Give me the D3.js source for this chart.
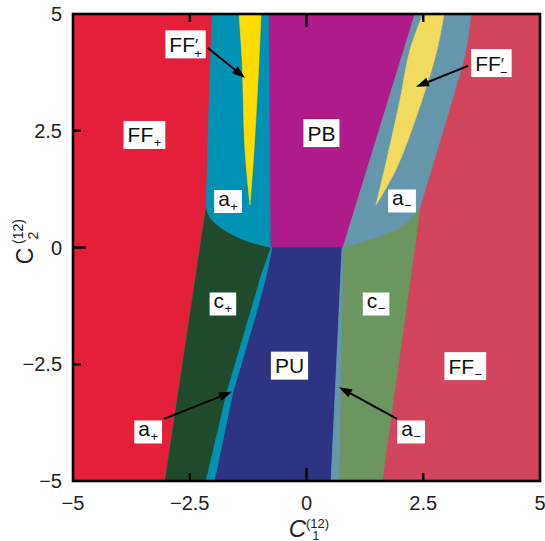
<!DOCTYPE html>
<html>
<head>
<meta charset="utf-8">
<script src="https://cdn.jsdelivr.net/npm/d3@7"></script>
<style>
  html, body { margin: 0; padding: 0; background: #fff; }
  svg { display: block; font-family: "Liberation Sans", Arial, sans-serif; }
</style>
</head>
<body>
<svg id="chart" width="545" height="541"></svg>
<script>

// tick values and labels
var xTicks = [-5, -2.5, 0, 2.5, 5],
    xTickLabels = ['\u22125', '\u22122.5', '0', '2.5', '5'],
    yTicks = [-5, -2.5, 0, 2.5, 5],
    yTickLabels = ['\u22125', '\u22122.5', '0', '2.5', '5'],
    innerTicks = [-2.5, 0, 2.5];

// phase boundaries (C1, C2)
var ffPlusUpper = [[-2.02, 5], [-2.09, 3.0], [-2.15, 0.87]],
    ffPlusLower = [[-2.15, 0.87], [-3.03, -5]],
    ffMinusUpper = [[3.52, 5], [3.415, 4.23], [3.12, 3.16], [2.80, 2.09], [2.43, 0.87]],
    ffMinusLower = [[2.43, 0.87], [2.34, 0.16], [1.62, -5]],
    aPlusArc = [[-2.15, 0.87], [-2.07, 0.65], [-1.85, 0.44], [-1.57, 0.27], [-1.21, 0.12], [-0.76, 0]],
    aMinusArc = [[0.78, 0], [1.21, 0.12], [1.64, 0.27], [2.07, 0.48], [2.43, 0.87]],
    pbLeft = [[-0.80, 5], [-0.76, 0]],
    pbRight = [[2.32, 5], [0.78, 0]],
    aPlusStripL = [[-0.76, 0], [-0.953, -0.546], [-1.167, -1.274], [-1.702, -3.094], [-2.109, -4.829], [-2.152, -5]],
    aPlusStripR = [[-0.739, 0], [-0.846, -0.546], [-1.039, -1.274], [-1.574, -3.094], [-1.938, -4.829], [-1.981, -5]],
    aMinusStripL = [[0.76, 0], [0.525, -5]],
    aMinusStripR = [[0.78, 0], [0.696, -5]],
    ffpPlusL = [[-1.445, 5], [-1.38, 4.01], [-1.317, 2.09], [-1.21, 0.91]],
    ffpPlusR = [[-0.974, 5], [-1.017, 4.01], [-1.124, 2.09], [-1.21, 0.91]],
    ffpMinusL = [[2.495, 5], [2.216, 4.23], [2.002, 3.16], [1.681, 1.72], [1.488, 0.91]],
    ffpMinusR = [[2.944, 5], [2.795, 4.23], [2.473, 3.16], [1.938, 1.72], [1.488, 0.91]];

// region labels: position, text, prime, subscript
var labels = [
    { x: -3.47, y: 2.41, t: 'FF', p: false, s: '+' },
    { x: 0.32, y: 2.45, t: 'PB', p: false, s: '' },
    { x: -2.59, y: 4.35, t: 'FF', p: true, s: '+' },
    { x: 3.96, y: 3.95, t: 'FF', p: true, s: '\u2212' },
    { x: -1.68, y: 0.985, t: 'a', p: false, s: '+' },
    { x: 2.045, y: 0.996, t: 'a', p: false, s: '\u2212' },
    { x: -1.79, y: -1.21, t: 'c', p: false, s: '+' },
    { x: 1.49, y: -1.21, t: 'c', p: false, s: '\u2212' },
    { x: -0.364, y: -2.53, t: 'PU', p: false, s: '' },
    { x: 3.40, y: -2.54, t: 'FF', p: false, s: '\u2212' },
    { x: -3.39, y: -3.95, t: 'a', p: false, s: '+' },
    { x: 2.24, y: -3.95, t: 'a', p: false, s: '\u2212' }
];

var arrows = [
    [[-2.11, 4.27], [-1.317, 3.63]],
    [[3.46, 3.89], [2.345, 3.44]],
    [[-3.05, -3.67], [-1.595, -3.09]],
    [[1.94, -3.67], [0.696, -2.99]]
];

var colors = {
    ffPlus: '#e31f3a',
    ffMinus: '#d3455f',
    aPlus: '#0092b5',
    aMinus: '#6497ab',
    pb: '#b01b8c',
    pu: '#2e3384',
    cPlus: '#1f4a2b',
    cMinus: '#6c9660',
    ffpPlus: '#ffdb00',
    ffpMinus: '#f1da5e'
};

var svg = d3.select('#chart');

var x = d3.scaleLinear().domain([-5, 5]).range([73, 540]),
    y = d3.scaleLinear().domain([-5, 5]).range([481, 14]);

function rev (a) { return a.slice().reverse(); }

// join several boundary pieces into one closed path
function region (pieces) {
    var d = '';
    pieces.forEach(function (p, i) {
        var pts = Array.isArray(p) ? p : p.pts,
            curve = Array.isArray(p) ? d3.curveLinear : p.curve,
            s = d3.line().x(function (v) { return x(v[0]); })
                .y(function (v) { return y(v[1]); })
                .curve(curve)(pts);
        d += i ? 'L' + s.slice(1) : s;
    });
    return d + 'Z';
}

var smooth = d3.curveCatmullRom.alpha(0.5);

svg.append('clipPath').attr('id', 'plot-clip')
    .append('rect')
    .attr('x', x(-5)).attr('y', y(5))
    .attr('width', x(5) - x(-5)).attr('height', y(-5) - y(5));

var plot = svg.append('g').attr('clip-path', 'url(#plot-clip)');

var regions = [
    { c: colors.ffMinus, d: region([[[-5, 5], [5, 5], [5, -5], [-5, -5]]]) },
    { c: colors.ffPlus, d: region([[[-5, 5]], ffPlusUpper, ffPlusLower, [[-5, -5]]]) },
    { c: colors.cMinus, d: region([ffPlusLower, rev(ffMinusLower)]) },
    { c: colors.cPlus, d: region([ffPlusLower, rev(aPlusStripL), { pts: rev(aPlusArc), curve: smooth }]) },
    { c: colors.aPlus, d: region([ffPlusUpper, { pts: aPlusArc, curve: smooth }, rev(pbLeft)]) },
    { c: colors.pb, d: region([pbLeft, rev(pbRight)]) },
    { c: colors.aMinus, d: region([pbRight, { pts: aMinusArc, curve: smooth }, { pts: rev(ffMinusUpper), curve: smooth }]) },
    { c: colors.pu, d: region([[[-0.76, 0]], aMinusStripL, rev(aPlusStripR)]) },
    { c: colors.aPlus, d: region([aPlusStripL, rev(aPlusStripR)]) },
    { c: colors.aMinus, d: region([aMinusStripL, rev(aMinusStripR)]) },
    { c: colors.ffpPlus, d: region([{ pts: ffpPlusL, curve: smooth }, { pts: rev(ffpPlusR), curve: smooth }]) },
    { c: colors.ffpMinus, d: region([{ pts: ffpMinusL, curve: smooth }, { pts: rev(ffpMinusR), curve: smooth }]) }
];

plot.selectAll('path.region')
    .data(regions)
    .enter()
    .append('path')
    .attr('class', 'region')
    .attr('d', function (d) { return d.d; })
    .attr('fill', function (d) { return d.c; })
    .attr('stroke', function (d) { return d.c; })
    .attr('stroke-width', 0.6);

// arrows
var arrowG = plot.append('g');
arrows.forEach(function (a) {
    var x0 = x(a[0][0]), y0 = y(a[0][1]), x1 = x(a[1][0]), y1 = y(a[1][1]),
        ang = Math.atan2(y1 - y0, x1 - x0),
        len = 13, hw = 4.5,
        bx = x1 - len * Math.cos(ang), by = y1 - len * Math.sin(ang);
    arrowG.append('line')
        .attr('x1', x0).attr('y1', y0).attr('x2', bx).attr('y2', by)
        .attr('stroke', '#000').attr('stroke-width', 2);
    arrowG.append('path')
        .attr('d', 'M' + x1 + ',' + y1 +
            'L' + (bx + hw * Math.sin(ang)) + ',' + (by - hw * Math.cos(ang)) +
            'L' + (bx - hw * Math.sin(ang)) + ',' + (by + hw * Math.cos(ang)) + 'Z')
        .attr('fill', '#000');
});

// labels in white boxes
var labelG = svg.append('g');
labels.forEach(function (l) {
    var g = labelG.append('g'),
        big = l.t.length > 1,
        txt = g.append('text')
            .attr('x', x(l.x))
            .attr('y', y(l.y) + (big ? 7.5 : 4))
            .attr('text-anchor', 'middle')
            .attr('font-size', 21)
            .attr('fill', '#111');
    txt.append('tspan').text(l.t);
    if (l.p) {
        txt.append('tspan').text('\u2032').attr('font-size', 17).attr('dy', -1);
    }
    if (l.s) {
        txt.append('tspan').text(l.s)
            .attr('font-size', 13)
            .attr('dx', l.p ? -4 : 0.5)
            .attr('dy', l.p ? 7 : 5);
    }
    var bb = txt.node().getBBox(),
        padX = 4;
    var top = big ? y(l.y) - 14 : y(l.y) - 11.5,
        h = big ? 28 : 23;
    g.insert('rect', 'text')
        .attr('x', bb.x - padX).attr('y', top)
        .attr('width', bb.width + 2 * padX).attr('height', h)
        .attr('fill', '#fff');
});

// frame and ticks
var axisG = svg.append('g');
axisG.append('rect')
    .attr('x', x(-5)).attr('y', y(5))
    .attr('width', x(5) - x(-5)).attr('height', y(-5) - y(5))
    .attr('fill', 'none').attr('stroke', '#000').attr('stroke-width', 2.6);

function tickLen (v) { return v === 0 ? 13 : 8; }

axisG.selectAll('line.xb').data(innerTicks).enter().append('line')
    .attr('x1', function (d) { return x(d); }).attr('x2', function (d) { return x(d); })
    .attr('y1', y(-5)).attr('y2', function (d) { return y(-5) - tickLen(d); })
    .attr('stroke', '#000').attr('stroke-width', 2.4);
axisG.selectAll('line.xt').data(innerTicks).enter().append('line')
    .attr('x1', function (d) { return x(d); }).attr('x2', function (d) { return x(d); })
    .attr('y1', y(5)).attr('y2', function (d) { return y(5) + tickLen(d); })
    .attr('stroke', '#000').attr('stroke-width', 2.4);
axisG.selectAll('line.yl').data(innerTicks).enter().append('line')
    .attr('y1', function (d) { return y(d); }).attr('y2', function (d) { return y(d); })
    .attr('x1', x(-5)).attr('x2', function (d) { return x(-5) + tickLen(d); })
    .attr('stroke', '#000').attr('stroke-width', 2.4);

axisG.selectAll('text.xl').data(xTicks).enter().append('text')
    .attr('x', function (d) { return x(d); })
    .attr('y', 510)
    .attr('text-anchor', 'middle')
    .attr('font-size', 20)
    .attr('fill', '#222')
    .text(function (d, i) { return xTickLabels[i]; });

axisG.selectAll('text.yl').data(yTicks).enter().append('text')
    .attr('x', 62)
    .attr('y', function (d) { return y(d) + 7; })
    .attr('text-anchor', 'end')
    .attr('font-size', 20)
    .attr('fill', '#222')
    .text(function (d, i) { return yTickLabels[i]; });

// axis titles
var xt = svg.append('g').attr('fill', '#222');
xt.append('text').attr('x', 306).attr('y', 537).attr('text-anchor', 'end')
    .attr('font-size', 24).attr('font-style', 'italic').text('C');
xt.append('text').attr('x', 306).attr('y', 528).attr('font-size', 13).text('(12)');
xt.append('text').attr('x', 312.5).attr('y', 540).attr('font-size', 12).text('1');

var yt = svg.append('g').attr('fill', '#222')
    .attr('transform', 'translate(33,256) rotate(-90)');
yt.append('text').attr('x', 0).attr('y', 0).attr('text-anchor', 'middle')
    .attr('font-size', 23).text('C');
yt.append('text').attr('x', 12).attr('y', -10).attr('font-size', 14).text('(12)');
yt.append('text').attr('x', 16.5).attr('y', 4.5).attr('font-size', 14).text('2');

</script>
</body>
</html>
